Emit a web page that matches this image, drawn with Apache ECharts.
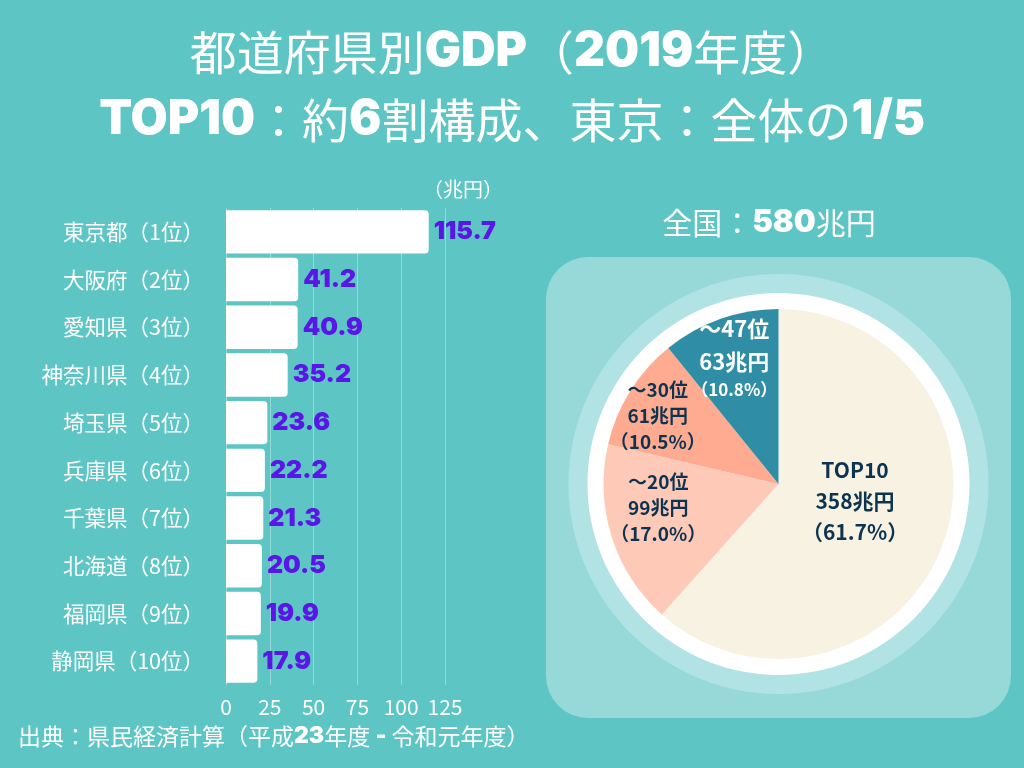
<!DOCTYPE html>
<html>
<head>
<meta charset="utf-8">
<script src="https://cdn.jsdelivr.net/npm/echarts@6/dist/echarts.min.js"></script>
<style>
html,body{margin:0;padding:0;background:#5ec5c5;}
#chart{width:1024px;height:768px;}
</style>
</head>
<body>
<div id="chart"></div>
<script>
// ---- data ----
var prefectures = ['東京都（1位）','大阪府（2位）','愛知県（3位）','神奈川県（4位）','埼玉県（5位）','兵庫県（6位）','千葉県（7位）','北海道（8位）','福岡県（9位）','静岡県（10位）'];
var gdpValues = [115.7, 41.2, 40.9, 35.2, 23.6, 22.2, 21.3, 20.5, 19.9, 17.9];
var xTicks = [0, 25, 50, 75, 100, 125];

var pieNames = ['TOP10', '～20位', '～30位', '～47位'];
var pieAmounts = [358, 99, 61, 63];
var piePercents = [61.7, 17.0, 10.5, 10.8];
var nationalTotal = 580;

// ---- styles ----
var CJK = '"Noto Sans CJK JP", "Noto Sans", sans-serif';
var LAT = 'Inter, "Noto Sans", sans-serif';
var pieColors = ['#f8f2e3', '#ffc9b8', '#ffab92', '#2f8ea5'];
var labelOffsets = [
  {dx: -8, dy: -15},
  {dx: -34, dy: -3},
  {dx: -44, dy: -20},
  {dx: -14, dy: -42}
];

var chart = echarts.init(document.getElementById('chart'), null, {renderer: 'canvas'});

var pieData = pieNames.map(function (n, i) {
  var dark = i < 3;
  return {
    name: n,
    value: pieAmounts[i],
    itemStyle: {color: pieColors[i]},
    label: {
      color: dark ? '#0c3450' : '#ffffff',
      formatter: (i === 0 ? '{t|' + n + '}\n{t|' + pieAmounts[i] + '兆円}\n{t|（' + piePercents[i].toFixed(1) + '%）}'
                : i === 3 ? '{w|' + n + '}\n{w|' + pieAmounts[i] + '兆円}\n{ws|（' + piePercents[i].toFixed(1) + '%）}'
                : '{m|' + n + '}\n{m|' + pieAmounts[i] + '兆円}\n{m|（' + piePercents[i].toFixed(1) + '%）}')
    }
  };
});

var option = {
  backgroundColor: '#5ec5c5',
  animation: false,
  title: [
    {
      left: 'center', top: 18, padding: 0,
      text: '{a|都道府県別}{b|GDP}{a|（}{b|2019}{a|年度）}\n{b|TOP10}{a|：約}{b|6}{a|割構成、東京：全体の}{b|1/5}',
      textStyle: {
        rich: {
          a: {fontFamily: CJK, fontSize: 47, fontWeight: 400, color: '#ffffff', lineHeight: 68},
          b: {fontFamily: LAT, fontSize: 48, fontWeight: 900, color: '#ffffff', lineHeight: 68}
        }
      }
    },
    {
      left: 423, top: 179, padding: 0,
      text: '（兆円）',
      textStyle: {fontFamily: CJK, fontSize: 20, fontWeight: 400, color: '#ffffff'}
    },
    {
      left: 769, top: 207, padding: 0, textAlign: 'center',
      text: '{a|全国：}{b|' + nationalTotal + '}{a|兆円}',
      textStyle: {
        rich: {
          a: {fontFamily: CJK, fontSize: 30, fontWeight: 400, color: '#ffffff'},
          b: {fontFamily: LAT, fontSize: 31, fontWeight: 900, color: '#ffffff'}
        }
      }
    },
    {
      left: 18, top: 725, padding: 0,
      text: '{a|出典：県民経済計算（平成}{b|23}{a|年度 }{b|-}{a| 令和元年度）}',
      textStyle: {
        rich: {
          a: {fontFamily: CJK, fontSize: 23, fontWeight: 400, color: '#ffffff'},
          b: {fontFamily: LAT, fontSize: 23, fontWeight: 900, color: '#ffffff'}
        }
      }
    }
  ],
  graphic: {
    elements: [
      {type: 'rect', z: 0, shape: {x: 546, y: 257, width: 465, height: 461, r: 42}, style: {fill: '#97d9d9'}},
      {type: 'circle', z: 0, shape: {cx: 778.5, cy: 484, r: 210}, style: {fill: '#b1e3e4'}},
      {type: 'circle', z: 0, shape: {cx: 778.5, cy: 484, r: 191}, style: {fill: '#ffffff'}}
    ]
  },
  grid: {left: 226, top: 208, width: 219, height: 477, containLabel: false},
  xAxis: {
    type: 'value', min: xTicks[0], max: xTicks[xTicks.length - 1], interval: xTicks[1] - xTicks[0],
    axisLine: {show: false}, axisTick: {show: false},
    splitLine: {show: true, lineStyle: {color: 'rgba(255,255,255,0.35)', width: 1}},
    axisLabel: {color: '#ffffff', fontFamily: CJK, fontSize: 21, margin: 12}
  },
  yAxis: {
    type: 'category', inverse: true, data: prefectures,
    axisLine: {show: false}, axisTick: {show: false},
    axisLabel: {color: '#ffffff', fontFamily: CJK, fontSize: 21.5, margin: 22}
  },
  series: [
    {
      type: 'bar', data: gdpValues, barCategoryGap: '9%', z: 2,
      itemStyle: {color: '#ffffff', borderRadius: [0, 4, 4, 0]},
      label: {
        show: true, position: 'right', distance: 5,
        color: '#5a15e7', fontFamily: LAT, fontWeight: 900, fontSize: 25
      }
    },
    {
      type: 'pie', z: 3, center: [778.5, 484], radius: [0, 175], startAngle: 90, clockwise: true,
      data: pieData,
      label: {
        show: true, position: 'inside', fontFamily: CJK,
        rich: {
          t: {fontFamily: CJK, fontSize: 21, fontWeight: 700, lineHeight: 31, color: '#0c3450', align: 'center'},
          m: {fontFamily: CJK, fontSize: 19, fontWeight: 700, lineHeight: 26, color: '#0c3450', align: 'center'},
          w: {fontFamily: CJK, fontSize: 22, fontWeight: 700, lineHeight: 33, color: '#ffffff', align: 'center'},
          ws: {fontFamily: CJK, fontSize: 17, fontWeight: 700, lineHeight: 24, color: '#ffffff', align: 'center'}
        }
      },
      labelLine: {show: false},
      labelLayout: function (params) { return labelOffsets[params.dataIndex]; },
      emphasis: {disabled: true}
    }
  ]
};
chart.setOption(option);
</script>
</body>
</html>
